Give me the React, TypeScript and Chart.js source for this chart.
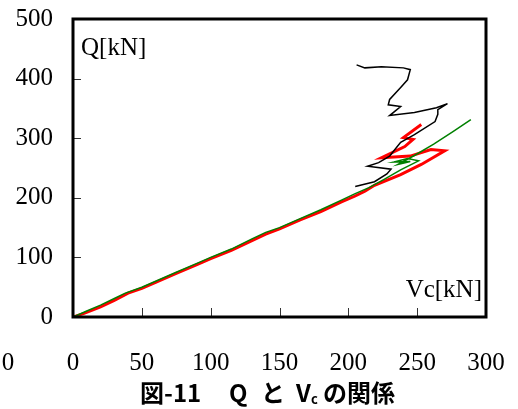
import React, { useEffect, useRef } from "react";
import { Chart, registerables } from "chart.js";

Chart.register(...registerables);

// Green series (Vc, Q)
const greenVc = [0, 10, 20, 30, 38, 50, 60, 75, 90, 100, 115, 130, 140, 150, 165, 180, 195, 205, 215, 226, 238, 251, 243, 233, 245, 236, 248, 262, 276, 289];
const greenQ = [0, 10, 20, 31, 40, 50, 60, 75, 90, 100, 114, 131, 142, 150, 165, 180, 196, 207, 217, 231, 247, 262, 266, 260, 261, 256, 271, 290, 311, 331];

// Red series (Vc, Q)
const redVc = [0, 8, 20, 30, 40, 50, 60, 75, 90, 100, 115, 130, 140, 150, 165, 180, 195, 205, 212, 219, 238, 253, 270, 260, 245, 224, 241, 247, 240, 253];
const redQ = [0, 6, 17, 28, 40, 48, 58, 73, 88, 98, 112, 128, 139, 148, 163, 177, 193, 203, 211, 221, 239, 256, 279, 281, 270, 267, 286, 298, 301, 323];

// Black series (Vc, Q)
const blackVc = [205, 219, 228, 231, 214, 222, 230, 238, 248, 263, 265, 265, 272, 264, 248, 230, 238, 229, 230, 238, 243, 245, 240, 224, 212, 206];
const blackQ = [219, 227, 240, 248, 253, 259, 270, 293, 306, 328, 340, 348, 358, 351, 343, 338, 353, 356, 365, 385, 398, 415, 418, 420, 418, 423];

const xTicks = [0, 50, 100, 150, 200, 250, 300];
const yTicks = [0, 100, 200, 300, 400, 500];

const yAxisLabel = "Q[kN]";
const xAxisLabel = "Vc[kN]";
const strayLabel = "0";

const toPoints = (xs: number[], ys: number[]) => xs.map((x, i) => ({ x, y: ys[i] }));

const SERIF = "'Liberation Serif', 'Times New Roman', serif";
const GOTHIC = "'Noto Sans CJK JP', sans-serif";

const framePlugin = {
  id: "framePlugin",
  afterDraw(chart: any) {
    const { ctx, chartArea, scales } = chart;
    const xs = scales.x;
    const ys = scales.y;
    ctx.save();
    // inward ticks
    ctx.strokeStyle = "#333";
    ctx.lineWidth = 1;
    xTicks.slice(1, -1).forEach((v) => {
      const px = Math.round(xs.getPixelForValue(v)) + 0.5;
      ctx.beginPath();
      ctx.moveTo(px, chartArea.bottom);
      ctx.lineTo(px, chartArea.bottom - 9);
      ctx.stroke();
    });
    yTicks.slice(1, -1).forEach((v) => {
      const py = Math.round(ys.getPixelForValue(v)) + 0.5;
      ctx.beginPath();
      ctx.moveTo(chartArea.left, py);
      ctx.lineTo(chartArea.left + 8, py);
      ctx.stroke();
    });
    // frame
    ctx.strokeStyle = "#000";
    ctx.lineWidth = 3;
    ctx.strokeRect(chartArea.left, chartArea.top, chartArea.right - chartArea.left, chartArea.bottom - chartArea.top);

    // axis labels inside plot
    ctx.fillStyle = "#000";
    ctx.font = `25px ${SERIF}`;
    ctx.textBaseline = "middle";
    ctx.textAlign = "left";
    ctx.fillText(yAxisLabel, chartArea.left + 8, chartArea.top + 29);
    ctx.textAlign = "right";
    ctx.fillText(xAxisLabel, chartArea.right - 4, chartArea.bottom - 27);

    // stray label at far left
    ctx.textAlign = "center";
    ctx.fillText(strayLabel, 8, 363);

    // caption
    ctx.font = `bold 24px ${GOTHIC}`;
    ctx.textAlign = "left";
    ctx.textBaseline = "alphabetic";
    const base = 402;
    ctx.fillText("図-11", 140, base);
    ctx.fillText("Q", 229, base);
    ctx.fillText("と", 261, base);
    ctx.fillText("V", 296, base);
    ctx.font = `bold 13px ${GOTHIC}`;
    ctx.fillText("c", 311, base + 2);
    ctx.font = `bold 24px ${GOTHIC}`;
    ctx.fillText("の関係", 323, base);
    ctx.restore();
  },
};

export default function App() {
  const ref = useRef<HTMLCanvasElement | null>(null);
  useEffect(() => {
    if (!ref.current) return;
    const chart = new Chart(ref.current, {
      type: "scatter",
      data: {
        datasets: [
          {
            label: "green",
            data: toPoints(greenVc, greenQ),
            showLine: true,
            borderColor: "#008000",
            backgroundColor: "#008000",
            borderWidth: 1.5,
            pointRadius: 0,
            order: 1,
          },
          {
            label: "black",
            data: toPoints(blackVc, blackQ),
            showLine: true,
            borderColor: "#000000",
            backgroundColor: "#000000",
            borderWidth: 1.5,
            pointRadius: 0,
            order: 2,
          },
          {
            label: "red",
            data: toPoints(redVc, redQ),
            showLine: true,
            borderColor: "#ff0000",
            backgroundColor: "#ff0000",
            borderWidth: 3,
            pointRadius: 0,
            order: 3,
          },
        ],
      },
      options: {
        animation: false,
        responsive: false,
        layout: { padding: { left: 0, right: 32, top: 19, bottom: 0 } },
        plugins: { legend: { display: false }, tooltip: { enabled: false }, title: { display: false } },
        scales: {
          x: {
            type: "linear",
            min: 0,
            max: 300,
            afterFit: (s: any) => { s.height = 92; s.paddingLeft = 0; s.paddingRight = 0; },
            afterBuildTicks: (s: any) => { s.ticks = xTicks.map((v) => ({ value: v })); },
            grid: { display: false, drawTicks: false },
            border: { display: false },
            ticks: { color: "#000", font: { family: SERIF, size: 25 }, padding: 31, maxRotation: 0, autoSkip: false },
          },
          y: {
            type: "linear",
            min: 0,
            max: 500,
            afterFit: (s: any) => { s.width = 73; s.paddingTop = 0; s.paddingBottom = 0; },
            afterBuildTicks: (s: any) => { s.ticks = yTicks.map((v) => ({ value: v })); },
            grid: { display: false, drawTicks: false },
            border: { display: false },
            ticks: { color: "#000", font: { family: SERIF, size: 25 }, padding: 20, autoSkip: false },
          },
        },
      },
      plugins: [framePlugin],
    });
    return () => chart.destroy();
  }, []);
  return (
    <div style={{ position: "fixed", left: 0, top: 0, width: 518, height: 409, background: "#fff" }}>
      <canvas ref={ref} width={518} height={409} />
    </div>
  );
}
